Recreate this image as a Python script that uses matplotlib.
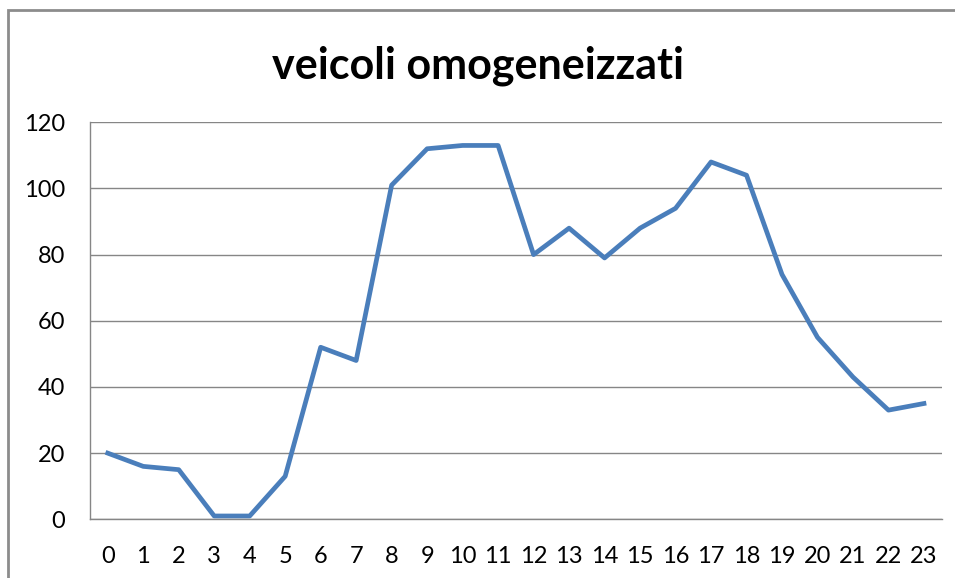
from matplotlib import pyplot as plt
from matplotlib.patches import Rectangle

# hourly counts
hours = list(range(24))
veicoli = [20, 16, 15, 1, 1, 13, 52, 48, 101, 112, 113, 113,
           80, 88, 79, 88, 94, 108, 104, 74, 55, 43, 33, 35]
y_ticks = [0, 20, 40, 60, 80, 100, 120]

plt.rcParams['font.family'] = ['Lato', 'DejaVu Sans']

fig = plt.figure(figsize=(9.55, 5.78), dpi=100)
ax = fig.add_axes([90 / 955, 1 - 519.3 / 578, (941.7 - 90) / 955, (519.3 - 122.3) / 578])

ax.plot(hours, veicoli, color='#4a7ebb', linewidth=3.4, solid_joinstyle='round')

ax.set_xlim(-0.5, 23.5)
ax.set_ylim(0, 120)
ax.set_xticks(hours)
ax.set_yticks(y_ticks)
ax.tick_params(axis='both', length=0, labelsize=17, colors='black')
ax.tick_params(axis='y', pad=18)
ax.tick_params(axis='x', pad=19)

ax.grid(axis='y', color='#868686', linewidth=1)
ax.set_axisbelow(True)
for side in ['top', 'right']:
    ax.spines[side].set_visible(False)
for side in ['left', 'bottom']:
    ax.spines[side].set_color('#868686')
    ax.spines[side].set_linewidth(1)

fig.text(0.5, 1 - 66 / 578, "veicoli omogeneizzati", ha='center', va='center',
         fontsize=31, fontweight='bold')

# outer chart border
fig.patches.append(Rectangle((8 / 955, -0.1), 1.2, 1 - 10 / 578 + 0.1,
                             transform=fig.transFigure, fill=False,
                             edgecolor='#8c8c8c', linewidth=2))

fig.savefig("out.png", dpi=100)
